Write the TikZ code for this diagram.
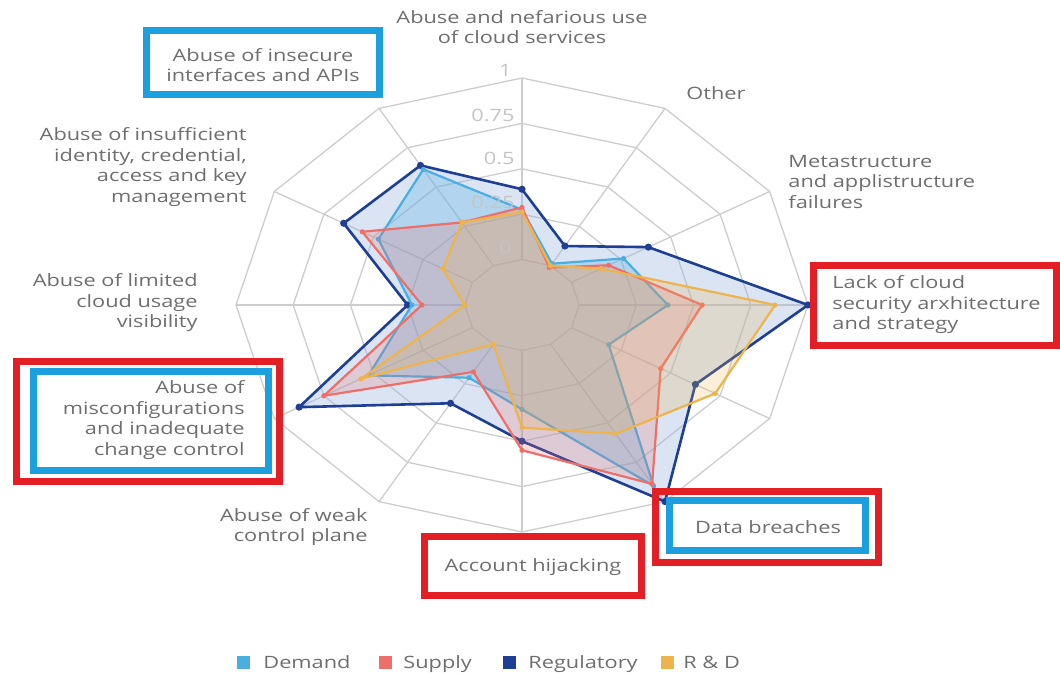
\documentclass[tikz,border=0pt]{standalone}
\usepackage{fontspec}
\setmainfont{Open Sans}[FakeStretch=1.28]
\definecolor{labelgrey}{HTML}{6E6E6E}
\definecolor{tickgrey}{HTML}{C4C4C4}
\definecolor{gridgrey}{HTML}{CDCDCD}
\definecolor{demandc}{HTML}{4AAEE0}
\definecolor{supplyc}{HTML}{EE6E6A}
\definecolor{regc}{HTML}{1E3F94}
\definecolor{regfill}{HTML}{9DB7E0}
\definecolor{rndc}{HTML}{EDB44E}
\definecolor{boxred}{HTML}{E31E24}
\definecolor{boxblue}{HTML}{1B9FDF}
\begin{document}
\begin{tikzpicture}[x=0.5pt,y=-0.5pt,
  lbl/.style={text=labelgrey,font=\fontsize{8.5}{10.25}\selectfont,inner sep=0pt,align=#1},
  legtext/.style={text=labelgrey,font=\fontsize{8.5}{10.25}\selectfont,inner sep=0pt,anchor=base west},
  tick/.style={text=tickgrey,font=\fontsize{8.5}{10.25}\selectfont,inner sep=0pt,anchor=east},
  gridline/.style={draw=gridgrey,line width=0.65pt},
  redbox/.style={draw=boxred,line width=3.5pt},
  bluebox/.style={draw=boxblue,line width=3.5pt},
  legsq/.style={minimum size=6.5pt,inner sep=0pt,fill=#1}]
\useasboundingbox (0,0) rectangle (1060,673);

% radar chart: 12 axes, stretched horizontally
\begin{scope}[shift={(522,305)},x=143pt,y=113.5pt]
  % rings for 0, 0.25, 0.5, 0.75, 1
  \foreach \r in {0.2,0.4,0.6,0.8,1.0}
    \draw[gridline] (90:\r) \foreach \k in {1,...,11}{ -- ({90-30*\k}:\r)} -- cycle;
  % spokes
  \foreach \k in {0,...,11}
    \draw[gridline] ({90-30*\k}:0.2) -- ({90-30*\k}:1);

  % series vertices (normalised radius, 0.2 = value 0, 1 = value 1)
  \foreach \v [count=\i from 0] in {0.51,0.30,0.51,1.00,0.70,1.00,0.60,0.50,0.90,0.40,0.72,0.71}
    \coordinate (reg\i) at ({90-30*\i}:\v);
  \foreach \v [count=\i from 0] in {0.42,0.21,0.41,0.51,0.35,0.92,0.46,0.37,0.62,0.385,0.58,0.69}
    \coordinate (dem\i) at ({90-30*\i}:\v);
  \foreach \v [count=\i from 0] in {0.43,0.19,0.35,0.63,0.56,0.91,0.64,0.34,0.80,0.35,0.645,0.42}
    \coordinate (sup\i) at ({90-30*\i}:\v);
  \foreach \v [count=\i from 0] in {0.41,0.20,0.32,0.885,0.78,0.655,0.54,0.20,0.65,0.20,0.32,0.42}
    \coordinate (rnd\i) at ({90-30*\i}:\v);

  % Regulatory
  \fill[regfill,fill opacity=0.38] (reg0) \foreach \i in {1,...,11}{ -- (reg\i)} -- cycle;
  \draw[regc,line width=1.3pt,line join=round] (reg0) \foreach \i in {1,...,11}{ -- (reg\i)} -- cycle;
  \foreach \i in {0,...,11} \fill[regc] (reg\i) circle[radius=1.8pt];
  % Demand
  \fill[demandc,fill opacity=0.28] (dem0) \foreach \i in {1,...,11}{ -- (dem\i)} -- cycle;
  \draw[demandc,line width=1.1pt,line join=round] (dem0) \foreach \i in {1,...,11}{ -- (dem\i)} -- cycle;
  \foreach \i in {0,...,11} \fill[demandc] (dem\i) circle[radius=1.3pt];
  % Supply
  \fill[supplyc,fill opacity=0.22] (sup0) \foreach \i in {1,...,11}{ -- (sup\i)} -- cycle;
  \draw[supplyc,line width=1.1pt,line join=round] (sup0) \foreach \i in {1,...,11}{ -- (sup\i)} -- cycle;
  \foreach \i in {0,...,11} \fill[supplyc] (sup\i) circle[radius=1.3pt];
  % R & D
  \fill[rndc,fill opacity=0.22] (rnd0) \foreach \i in {1,...,11}{ -- (rnd\i)} -- cycle;
  \draw[rndc,line width=1.1pt,line join=round] (rnd0) \foreach \i in {1,...,11}{ -- (rnd\i)} -- cycle;
  \foreach \i in {0,...,11} \fill[rndc] (rnd\i) circle[radius=1.3pt];
\end{scope}

% scale labels
\node[tick] (t1) at (512,70) {1};
\node[tick] (t075) at (515,115) {0.75};
\node[tick] (t05) at (515,158) {0.5};
\node[tick] (t025) at (515,202) {0.25};
\node[tick] (t0) at (512,247) {0};

% highlight frames
\draw[bluebox] (146.5,30.5) rectangle (379.5,94.5);
\draw[redbox] (16.5,361.5) rectangle (279.5,481.5);
\draw[bluebox] (33,372) rectangle (268,470.5);
\draw[redbox] (813.5,265.5) rectangle (1056,345.5);
\draw[redbox] (655.5,491.5) rectangle (878.5,562.5);
\draw[bluebox] (669,500.5) rectangle (865.5,550.5);
\draw[redbox] (424.5,536) rectangle (641,595);

% axis labels
\node[lbl=center] (nefarious) at (522,27) {Abuse and nefarious use\\of cloud services};
\node[lbl=center] (other) at (716,93) {Other};
\node[lbl=left,anchor=west] (meta) at (788,182) {Metastructure\\and applistructure\\failures};
\node[lbl=left,anchor=west] (lack) at (832,305) {Lack of cloud\\security arxhitecture\\and strategy};
\node[lbl=center] (breach) at (768,527) {Data breaches};
\node[lbl=center] (hijack) at (533,567) {Account hijacking};
\node[lbl=right,anchor=east] (weak) at (368,527) {Abuse of weak\\control plane};
\node[lbl=right,anchor=east] (misconf) at (245,420) {Abuse of\\misconfigurations\\and inadequate\\change control};
\node[lbl=right,anchor=east] (limited) at (198,303) {Abuse of limited\\cloud usage\\visibility};
\node[lbl=right,anchor=east] (identity) at (247,167) {Abuse of insufficient\\identity, credential,\\access and key\\management};
\node[lbl=center] (insecure) at (263,65) {Abuse of insecure\\interfaces and APIs};

% legend
\node[legsq=demandc] (sqd) at (243.5,662) {};
\node[legtext] (ld) at (263,668) {Demand};
\node[legsq=supplyc] (sqs) at (385,662) {};
\node[legtext] (ls) at (403,668) {Supply};
\node[legsq=regc] (sqr) at (509,662) {};
\node[legtext] (lr) at (528,668) {Regulatory};
\node[legsq=rndc] (sqn) at (667,662) {};
\node[legtext] (ln) at (683,668) {R \& D};
\end{tikzpicture}
\end{document}
